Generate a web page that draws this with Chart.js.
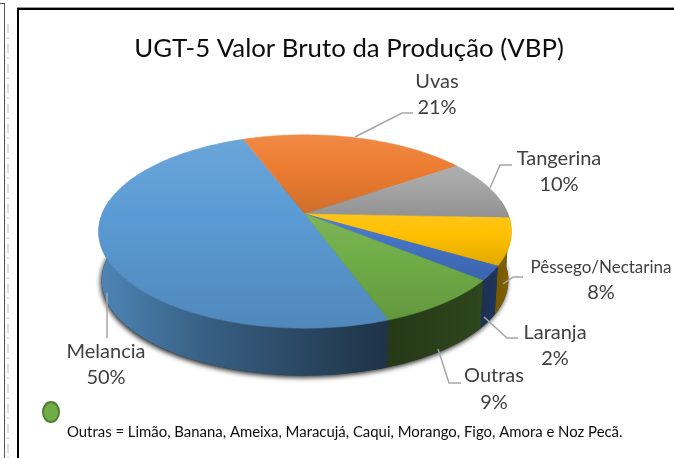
<!DOCTYPE html>
<html>
<head>
<meta charset="utf-8">
<style>
  html, body { margin: 0; padding: 0; background: #fff; }
  canvas { display: block; }
</style>
<script src="https://cdn.jsdelivr.net/npm/chart.js@4"></script>
</head>
<body>
<canvas id="myChart" width="674" height="458"></canvas>
<script>
const titleText = "UGT-5 Valor Bruto da Produção (VBP)";
const footnote = "Outras = Limão, Banana, Ameixa, Maracujá, Caqui, Morango, Figo, Amora e Noz Pecã.";

const categories = ["Melancia", "Uvas", "Tangerina", "Pêssego/Nectarina", "Laranja", "Outras"];
const shares = [49.8, 21.2, 10.2, 7.8, 2.4, 8.6];
const colors = ["#5b9bd5", "#ed7d31", "#a5a5a5", "#ffc000", "#4472c4", "#70ad47"];

// where each callout sits: text centre, size, then the leader line
const callouts = [
  { x: 106, y: 352, size: 20, line: [[107, 293], [107, 338]] },
  { x: 437, y: 82, size: 20, line: [[355, 137], [402, 113], [413, 113]] },
  { x: 559, y: 159, size: 20, line: [[490, 188], [500, 165], [512, 165]] },
  { x: 601, y: 268, size: 17, lineGap: 25, line: [[503, 284], [513, 277], [523, 277]] },
  { x: 555, y: 333, size: 20, line: [[484, 317], [507, 338], [518, 338]] },
  { x: 494, y: 376, size: 20, lineGap: 27, line: [[438, 349], [449, 383], [461, 383]] },
];

// perspective disc: the pivot of the pie is not the centre of the ellipse
const squash = 0.4605;
const tilt = 0.181;
const depth = 49;
const baseShrink = 0.985;

function project(el, angle, shrink, drop) {
  const u = Math.cos(angle);
  const v = -Math.sin(angle);
  const w = 1 + tilt * v;
  return [
    el.x + (el.outerRadius * shrink * u) / w,
    el.y + drop - (el.outerRadius * squash * shrink * v) / w,
  ];
}

function rgbOf(hex) {
  return [1, 3, 5].map((i) => parseInt(hex.slice(i, i + 2), 16));
}

function scaled(hex, f) {
  const c = rgbOf(hex).map((n) => (f <= 1 ? n * f : n + (255 - n) * (f - 1)));
  return `rgb(${c.map(Math.round).join(",")})`;
}

function arcPoints(el, from, to, shrink, drop) {
  const pts = [];
  const steps = Math.max(2, Math.ceil((to - from) / 0.02));
  for (let i = 0; i <= steps; i++) {
    pts.push(project(el, from + ((to - from) * i) / steps, shrink, drop));
  }
  return pts;
}

function tracePolygon(ctx, pts) {
  ctx.beginPath();
  pts.forEach((p, i) => (i ? ctx.lineTo(p[0], p[1]) : ctx.moveTo(p[0], p[1])));
  ctx.closePath();
}

const pie3d = {
  id: "pie3d",
  beforeDatasetDraw(chart) {
    const ctx = chart.ctx;
    const arcs = chart.getDatasetMeta(0).data;
    const first = arcs[0];
    const left = first.x - first.outerRadius;
    const width = first.outerRadius * 2;

    // soft shadow under the base
    ctx.save();
    ctx.shadowColor = "rgba(0,0,0,0.85)";
    ctx.shadowBlur = 5;
    ctx.shadowOffsetX = -1;
    ctx.shadowOffsetY = 2;
    ctx.fillStyle = "#333";
    tracePolygon(ctx, arcPoints(first, 0, Math.PI * 2, baseShrink, depth));
    ctx.fill();
    ctx.restore();

    // walls, only the part of each slice facing us
    const lowFrom = -0.14;
    const lowTo = Math.PI + 0.14;
    arcs.forEach((el, i) => {
      [0, Math.PI * 2].forEach((turn) => {
        const from = Math.max(el.startAngle, lowFrom + turn);
        const to = Math.min(el.endAngle, lowTo + turn);
        if (to <= from) return;
        const top = arcPoints(el, from, to, 1, 0);
        const bottom = arcPoints(el, from, to, baseShrink, depth).reverse();
        const g = ctx.createLinearGradient(left, 0, left + width, 0);
        g.addColorStop(0, scaled(colors[i], 0.85));
        g.addColorStop(0.25, scaled(colors[i], 0.62));
        g.addColorStop(0.7, scaled(colors[i], 0.33));
        g.addColorStop(0.92, scaled(colors[i], 0.4));
        g.addColorStop(1, scaled(colors[i], 0.5));
        ctx.fillStyle = g;
        tracePolygon(ctx, top.concat(bottom));
        ctx.fill();
      });
    });

    // top faces
    arcs.forEach((el, i) => {
      const pts = arcPoints(el, el.startAngle, el.endAngle, 1, 0);
      pts.push([el.x, el.y]);
      const ys = pts.map((p) => p[1]);
      const g = ctx.createLinearGradient(0, Math.min(...ys), 0, Math.max(...ys));
      g.addColorStop(0, scaled(colors[i], 1.1));
      g.addColorStop(0.4, colors[i]);
      g.addColorStop(1, scaled(colors[i], 0.88));
      ctx.fillStyle = g;
      ctx.strokeStyle = g;
      ctx.lineWidth = 0.6;
      tracePolygon(ctx, pts);
      ctx.fill();
      ctx.stroke();
    });
    return false;
  },
};

const paperAndText = {
  id: "paperAndText",
  beforeDraw(chart) {
    const ctx = chart.ctx;
    ctx.save();
    ctx.fillStyle = "#fff";
    ctx.fillRect(0, 0, chart.width, chart.height);
    // page bits left of the chart frame
    ctx.fillStyle = "#555";
    ctx.fillRect(0, 3, 5, 1);
    ctx.fillRect(4, 3, 1, 455);
    ctx.strokeStyle = "#ddd";
    ctx.lineWidth = 2;
    ctx.setLineDash([9, 4, 2, 5]);
    ctx.beginPath();
    ctx.moveTo(8, 24);
    ctx.lineTo(8, 458);
    ctx.stroke();
    ctx.setLineDash([]);
    // frame
    ctx.fillStyle = "#999";
    ctx.fillRect(17, 7, 657, 1);
    ctx.fillStyle = "#000";
    ctx.fillRect(17, 8, 657, 2);
    ctx.fillRect(17, 8, 2, 450);
    ctx.restore();
  },
  afterDraw(chart) {
    const ctx = chart.ctx;
    ctx.save();
    ctx.textAlign = "center";
    ctx.textBaseline = "middle";

    ctx.fillStyle = "#0d0d0d";
    ctx.font = "25.8px Lato";
    ctx.fillText(titleText, 349, 49);

    callouts.forEach((c, i) => {
      ctx.strokeStyle = "#a6a6a6";
      ctx.lineWidth = 1.5;
      ctx.beginPath();
      c.line.forEach((p, j) => (j ? ctx.lineTo(p[0], p[1]) : ctx.moveTo(p[0], p[1])));
      ctx.stroke();
      ctx.fillStyle = "#404040";
      ctx.font = `${c.size}px Lato`;
      ctx.fillText(categories[i], c.x, c.y);
      ctx.font = "20px Lato";
      ctx.fillText(Math.round(shares[i]) + "%", c.x, c.y + (c.lineGap || 26));
    });

    // green marker for the "Outras" note
    ctx.fillStyle = colors[5];
    ctx.strokeStyle = "#4f7f30";
    ctx.lineWidth = 2;
    ctx.beginPath();
    ctx.ellipse(51, 412, 8, 10, 0, 0, Math.PI * 2);
    ctx.fill();
    ctx.stroke();

    ctx.fillStyle = "#0d0d0d";
    ctx.textAlign = "left";
    ctx.font = "14.9px Lato";
    ctx.fillText(footnote, 67, 432);
    ctx.restore();
  },
};

new Chart(document.getElementById("myChart"), {
  type: "pie",
  data: {
    labels: categories,
    datasets: [
      {
        data: shares,
        backgroundColor: colors,
        borderWidth: 0,
      },
    ],
  },
  options: {
    responsive: false,
    animation: false,
    rotation: 160,
    layout: {
      padding: { left: 102, right: 166, top: 11, bottom: 41 },
    },
    plugins: {
      legend: { display: false },
      title: { display: false },
      tooltip: { enabled: false },
    },
  },
  plugins: [paperAndText, pie3d],
});
</script>
</body>
</html>
